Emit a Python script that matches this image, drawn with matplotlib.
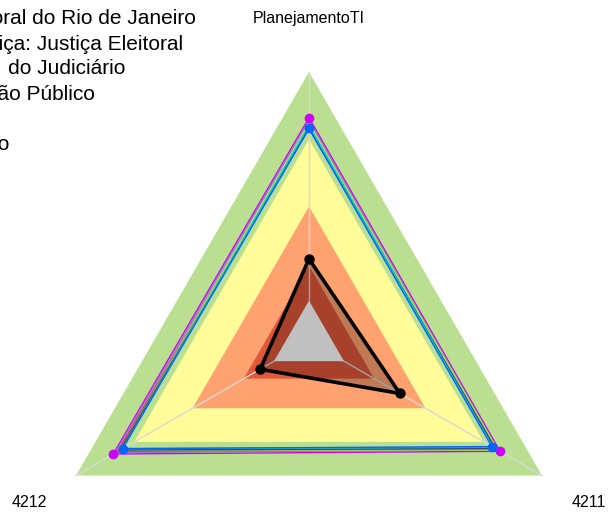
import numpy as np
import matplotlib
matplotlib.use("Agg")
import matplotlib.pyplot as plt

plt.rcParams['font.family'] = ['Liberation Sans', 'DejaVu Sans']

# eixos do radar (sentido horario a partir do topo)
categorias = ["PlanejamentoTI", "4211", "4212"]

# faixas de referencia (de fora para dentro)
niveis = [1.0, 0.75, 0.5, 0.28]
cores_niveis = ["#BADF90", "#FFFC99", "#FFA270", "#E0583A"]
nivel_centro = 0.15

# organizacao avaliada
orgao = [0.305, 0.39, 0.21]

# demais series (medias)
series_vals = [
    [0.83, 0.82, 0.84],
    [0.82, 0.81, 0.83],
    [0.80, 0.80, 0.82],
    [0.80, 0.80, 0.81],
    [0.81, 0.81, 0.81],
    [0.79, 0.80, 0.81],
    [0.80, 0.79, 0.80],
    [0.79, 0.785, 0.80],
]
series_cores = ["#CC00FF", "#A070D0", "#E03030", "#00C060", "#99EE33",
                "#404070", "#00C8FF", "#0066FF"]
series_marcador = [True, False, False, False, False, False, False, True]

legenda = [
    "Tribunal Regional Eleitoral do Rio de Janeiro",
    "Média do Segmento de Justiça: Justiça Eleitoral",
    "Média Geral  do Judiciário",
    "Média do Segmento de Atuação Público",
    "Máximo",
]
legenda_dir = [196, 183, 125, 95, 10]
legenda_y = [18, 44, 69, 95, 145]

W, H = 608, 516
cx, cy, R = 309, 341, 269

fig = plt.figure(figsize=(W / 100, H / 100), dpi=100, facecolor="white")
ax = fig.add_axes([0, 0, 1, 1])
ax.set_axis_off()
ax.set_xlim(-cx / R, (W - cx) / R)
ax.set_ylim(-(H - cy) / R, cy / R)

ang = np.deg2rad(90 - 120 * np.arange(len(categorias)))


def xy(vals, fechar=False):
    v = np.asarray(vals, dtype=float)
    x, y = v * np.cos(ang), v * np.sin(ang)
    if fechar:
        x, y = np.append(x, x[0]), np.append(y, y[0])
    return x, y


# faixas
for nv, cor in zip(niveis, cores_niveis):
    x, y = xy([nv] * 3)
    ax.fill(x, y, color=cor, lw=0, zorder=1)

# raios
for a in ang:
    ax.plot([0, np.cos(a)], [0, np.sin(a)], color="#D8D8D8", lw=1, zorder=2)

# area da organizacao
x, y = xy(orgao)
ax.fill(x, y, color="black", alpha=0.25, lw=0, zorder=3)

x, y = xy([nivel_centro] * 3)
ax.fill(x, y, color="#C0C0C0", lw=0, zorder=4)

# series de comparacao
for vals, cor, mk in zip(series_vals, series_cores, series_marcador):
    x, y = xy(vals, fechar=True)
    ax.plot(x, y, color=cor, lw=1, zorder=5)
    if mk:
        x, y = xy(vals)
        ax.plot(x, y, "o", color=cor, ms=7, mec="none", zorder=6)

x, y = xy(orgao, fechar=True)
ax.plot(x, y, color="black", lw=2.6, zorder=7)
x, y = xy(orgao)
ax.plot(x, y, "o", color="black", ms=6.5, zorder=8)

# rotulos dos eixos
for a, nome in zip(ang, categorias):
    ax.text(1.2 * np.cos(a), 1.2 * np.sin(a), nome, ha="center", va="center",
            fontsize=11.5, color="black")

# legenda (cortada na borda esquerda)
for txt, xr, yy in zip(legenda, legenda_dir, legenda_y):
    fig.text(xr / W, 1 - yy / H, txt, ha="right", va="center",
             fontsize=15, color="black")

fig.savefig("out.png", dpi=100, facecolor="white")
